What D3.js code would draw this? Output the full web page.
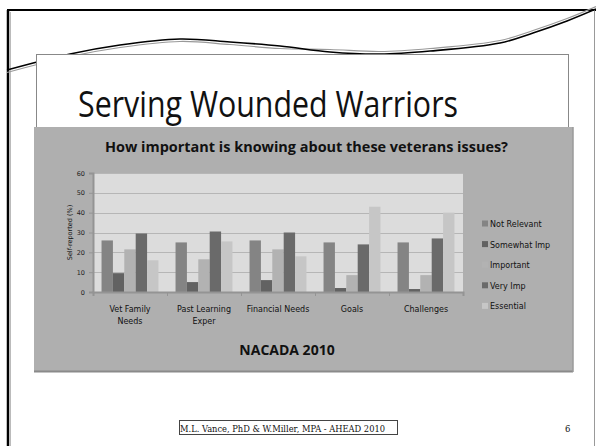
<!DOCTYPE html>
<html>
<head>
<meta charset="utf-8">
<script src="https://cdn.jsdelivr.net/npm/d3@7"></script>
<style>
  body { margin: 0; background: #fff; }
  svg { display: block; }
</style>
</head>
<body>
<div id="slide"></div>
<script>
// chart data
var categories = [['Vet Family', 'Needs'], ['Past Learning', 'Exper'], ['Financial Needs'], ['Goals'], ['Challenges']];
var seriesNames = ['Not Relevant', 'Somewhat Imp', 'Important', 'Very Imp', 'Essential'];
var notRelevant = [26, 25, 26, 25, 25];
var somewhatImp = [9.5, 5, 6, 2, 1.5];
var important = [21.5, 16.5, 21.5, 8.5, 8.5];
var veryImp = [29.5, 30.5, 30, 24, 27];
var essential = [16, 25.5, 18, 43, 40];
var yTicks = [0, 10, 20, 30, 40, 50, 60];
var colors = ['#848484', '#626262', '#b2b2b2', '#6a6a6a', '#c6c6c6'];

var values = [notRelevant, somewhatImp, important, veryImp, essential];

var svg = d3.select('#slide').append('svg')
  .attr('width', 596)
  .attr('height', 446);

// slide frame
svg.append('line').attr('x1', 10.5).attr('y1', 12).attr('x2', 10.5).attr('y2', 446).style('stroke', '#bbb').style('stroke-width', 1);
svg.append('line').attr('x1', 8).attr('y1', 10).attr('x2', 8).attr('y2', 446).style('stroke', '#000').style('stroke-width', 2.5);
svg.append('line').attr('x1', 7).attr('y1', 10).attr('x2', 596).attr('y2', 10).style('stroke', '#000').style('stroke-width', 2);
svg.append('line').attr('x1', 594.5).attr('y1', 10).attr('x2', 594.5).attr('y2', 446).style('stroke', '#999').style('stroke-width', 1);

// wavy decoration
var wave = [[7, 70], [70, 54], [120, 45], [180, 39], [230, 42], [280, 46], [330, 52], [380, 54], [430, 51], [500, 43], [533, 33], [567, 21], [596, 9]];
var waveLine = d3.line().curve(d3.curveCatmullRom);
svg.append('path').attr('d', waveLine(wave.map(function (p) { return [p[0], p[1] + (p[0] < 300 ? 2.5 : -2.5)]; })))
  .style('fill', 'none').style('stroke', '#999').style('stroke-width', 1.2);
svg.append('path').attr('d', waveLine(wave))
  .style('fill', 'none').style('stroke', '#000').style('stroke-width', 1.6);

// title box
svg.append('rect').attr('x', 36.5).attr('y', 54.5).attr('width', 532).attr('height', 80)
  .style('fill', '#fff').style('stroke', '#888').style('stroke-width', 1);
svg.append('text').attr('x', 78).attr('y', 117)
  .attr('textLength', 380).attr('lengthAdjust', 'spacingAndGlyphs')
  .style('font-family', '"Open Sans", sans-serif').style('font-size', '36px').style('fill', '#111')
  .text('Serving Wounded Warriors');

// chart area
svg.append('rect').attr('x', 34).attr('y', 127).attr('width', 539).attr('height', 245).style('fill', '#afafaf');
svg.append('line').attr('x1', 34).attr('y1', 371.5).attr('x2', 573).attr('y2', 371.5).style('stroke', '#8a8a8a').style('stroke-width', 2);
svg.append('line').attr('x1', 573).attr('y1', 127).attr('x2', 573).attr('y2', 372).style('stroke', '#9a9a9a').style('stroke-width', 1.5);

svg.append('text').attr('x', 105).attr('y', 152)
  .attr('textLength', 403).attr('lengthAdjust', 'spacingAndGlyphs')
  .style('font-family', '"Open Sans", sans-serif').style('font-weight', 'bold').style('font-size', '14px').style('fill', '#111')
  .text('How important is knowing about these veterans issues?');

var plot = { left: 93, right: 463, top: 173, bottom: 292 };

svg.append('rect').attr('x', plot.left).attr('y', plot.top)
  .attr('width', plot.right - plot.left).attr('height', plot.bottom - plot.top)
  .style('fill', '#dcdcdc');

var y = d3.scaleLinear().domain([0, 60]).range([plot.bottom, plot.top]);
var x0 = d3.scaleBand().domain(d3.range(categories.length)).range([plot.left, plot.right]).padding(0);
var x1 = d3.scaleBand().domain(d3.range(seriesNames.length)).range([0, x0.bandwidth()])
  .paddingInner(0).paddingOuter(0.75);

// gridlines
svg.append('g').selectAll('line').data(yTicks.slice(1)).enter().append('line')
  .attr('x1', plot.left).attr('x2', plot.right)
  .attr('y1', function (d) { return Math.round(y(d)) + 0.5; })
  .attr('y2', function (d) { return Math.round(y(d)) + 0.5; })
  .style('stroke', '#b6b6b6').style('stroke-width', 1);

// bars
var groups = svg.append('g').selectAll('g').data(values).enter().append('g')
  .style('fill', function (d, i) { return colors[i]; });
groups.each(function (vals, si) {
  d3.select(this).selectAll('rect').data(vals).enter().append('rect')
    .attr('x', function (d, ci) { return x0(ci) + x1(si); })
    .attr('y', function (d) { return y(d); })
    .attr('width', x1.bandwidth())
    .attr('height', function (d) { return plot.bottom - y(d); });
});

// axes
var yAxis = svg.append('g').attr('transform', 'translate(' + plot.left + ',0)')
  .call(d3.axisLeft(y).tickValues(yTicks).tickSize(4).tickPadding(4));
yAxis.select('.domain').style('stroke', '#949494').style('stroke-width', 2);
yAxis.selectAll('.tick line').style('stroke', '#949494');
yAxis.selectAll('.tick text').style('font-family', '"DejaVu Sans", sans-serif').style('font-size', '6.5px').style('fill', '#222');

var xAxis = svg.append('g').attr('transform', 'translate(0,' + plot.bottom + ')')
  .call(d3.axisBottom(d3.scaleLinear().domain([0, categories.length]).range([plot.left, plot.right]))
    .tickValues(d3.range(categories.length + 1)).tickSize(4).tickFormat(''));
xAxis.select('.domain').style('stroke', '#949494').style('stroke-width', 2);
xAxis.selectAll('.tick line').style('stroke', '#949494');

svg.append('g').selectAll('text').data(categories).enter().append('text')
  .attr('x', function (d, i) { return x0(i) + x0.bandwidth() / 2; })
  .attr('y', 312)
  .attr('text-anchor', 'middle')
  .style('font-family', '"DejaVu Sans", sans-serif').style('font-size', '8px').style('fill', '#111')
  .each(function (lines) {
    var t = d3.select(this);
    lines.forEach(function (l, k) {
      t.append('tspan').attr('x', t.attr('x')).attr('dy', k === 0 ? 0 : 12).text(l);
    });
  });

svg.append('text')
  .attr('transform', 'translate(72,' + ((plot.top + plot.bottom) / 2) + ') rotate(-90)')
  .attr('text-anchor', 'middle')
  .style('font-family', '"DejaVu Sans", sans-serif').style('font-size', '6.5px').style('fill', '#111')
  .text('Self-reported (%)');

svg.append('text').attr('x', 287).attr('y', 355).attr('text-anchor', 'middle')
  .style('font-family', '"Open Sans", sans-serif').style('font-weight', 'bold').style('font-size', '14px').style('fill', '#111')
  .text('NACADA 2010');

// legend
var legend = svg.append('g').selectAll('g').data(seriesNames).enter().append('g')
  .attr('transform', function (d, i) { return 'translate(482,' + (224 + i * 20.6) + ')'; });
legend.append('rect').attr('x', 0).attr('y', -3.5).attr('width', 6).attr('height', 6)
  .style('fill', function (d, i) { return colors[i]; });
legend.append('text').attr('x', 8).attr('y', 3)
  .style('font-family', '"DejaVu Sans", sans-serif').style('font-size', '8px').style('fill', '#111')
  .text(function (d) { return d; });

// footer
svg.append('rect').attr('x', 179.5).attr('y', 420.5).attr('width', 218).attr('height', 14)
  .style('fill', 'none').style('stroke', '#444').style('stroke-width', 1);
svg.append('text').attr('x', 180).attr('y', 432)
  .style('font-family', '"DejaVu Serif", serif').style('font-size', '8.5px').style('fill', '#111')
  .attr('textLength', 205).attr('lengthAdjust', 'spacingAndGlyphs')
  .text('M.L. Vance, PhD & W.Miller, MPA - AHEAD 2010');
svg.append('text').attr('x', 565).attr('y', 432)
  .style('font-family', '"DejaVu Serif", serif').style('font-size', '8.5px').style('fill', '#111')
  .text('6');
</script>
</body>
</html>
